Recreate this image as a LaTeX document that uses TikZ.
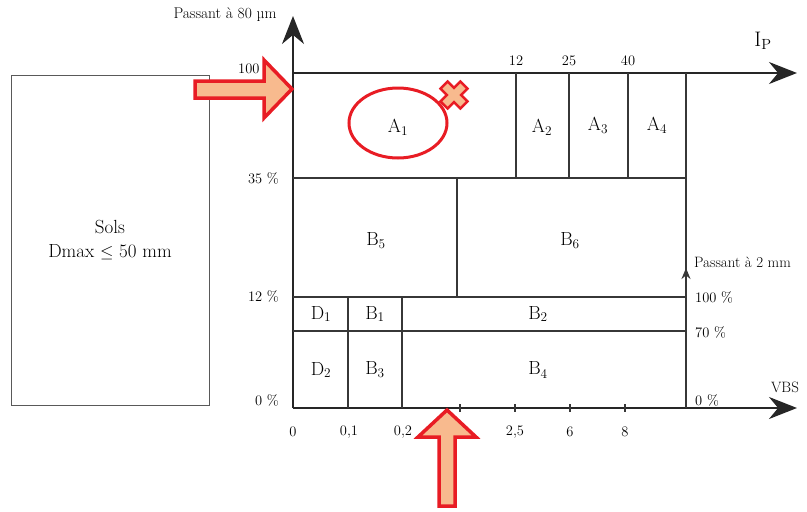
\documentclass[tikz,border=0pt]{standalone}
\usepackage{fontspec}
\usetikzlibrary{arrows.meta}
\definecolor{annred}{RGB}{232,28,36}
\definecolor{annfill}{RGB}{248,186,142}
\definecolor{gridgray}{RGB}{55,55,55}
\begin{document}
\begin{tikzpicture}[x=1pt, y=-1pt,
    grid/.style={draw=gridgray, line width=1.7pt},
    axis/.style={draw=black!85, line width=2pt, -{Stealth[length=28pt, width=22pt]}},
    cell/.style={font=\fontsize{19}{21}\selectfont},
    lbl/.style={font=\fontsize{14.5}{16}\selectfont, inner sep=1pt},
    annot/.style={draw=annred, fill=annfill, line width=3.5pt, line join=miter}
]
\useasboundingbox (0,0) rectangle (807,512);

% soil box
\node[draw=gray!70!black, line width=1pt, minimum width=198pt, minimum height=330pt,
      align=center, font=\fontsize{19}{24}\selectfont] (sols) at (110,240) {Sols\\Dmax $\leq$ 50 mm};

% axes
\coordinate (O) at (293,408);
\coordinate (ytop) at (293,16);
\coordinate (xend) at (797,408);
\coordinate (tl) at (293,73);
\coordinate (ipend) at (797,73);
\coordinate (rb) at (686,408);
\coordinate (rt) at (686,73);
\coordinate (rmid) at (686,268);

\draw[axis] (O) -- (ytop);
\draw[axis] (O) -- (xend);
\draw[axis] (tl) -- (ipend);
\draw[grid] (rb) -- (rt);
\draw[grid, -{Stealth[length=11pt, width=9pt]}] (rb) -- (rmid);

% class boundaries
\draw[grid] (293,178) -- (686,178);
\draw[grid] (293,297) -- (686,297);
\draw[grid] (293,331) -- (686,331);
\foreach \x in {516,569,628} \draw[grid] (\x,73) -- (\x,178);
\draw[grid] (457,178) -- (457,297);
\foreach \x in {348,402} \draw[grid] (\x,297) -- (\x,408);
\foreach \x in {460,515,570,625} \draw[grid] (\x,404) -- (\x,412);

% axis titles
\node[lbl, font=\fontsize{15.5}{17}\selectfont] (ytitle) at (225,15) {Passant à 80 µm};
\node[font=\fontsize{21}{23}\selectfont] (iptitle) at (763,41) {I\textsubscript{P}};
\node[lbl, font=\fontsize{15}{17}\selectfont, anchor=west] (rtitle) at (693,262) {Passant à 2 mm};
\node[lbl, font=\fontsize{15}{17}\selectfont] (vbs) at (785,387) {VBS};

% left scale
\node[lbl, anchor=west] (p100) at (237,69) {100};
\node[lbl, anchor=east] (p35) at (280,178) {35 \%};
\node[lbl, anchor=east] (p12) at (280,296) {12 \%};
\node[lbl, anchor=east] (p0) at (280,400) {0 \%};

% right scale
\node[lbl, anchor=west] (q100) at (694,297) {100 \%};
\node[lbl, anchor=west] (q70) at (694,332) {70 \%};
\node[lbl, anchor=west] (q0) at (694,400) {0 \%};

% Ip scale
\node[lbl] (ip12) at (516,61) {12};
\node[lbl] (ip25) at (569,61) {25};
\node[lbl] (ip40) at (628,61) {40};

% VBS scale
\node[lbl] (v0) at (293,432) {0};
\node[lbl] (v01) at (349,432) {0,1};
\node[lbl] (v02) at (403,432) {0,2};
\node[lbl] (v25) at (515,432) {2,5};
\node[lbl] (v6) at (570,432) {6};
\node[lbl] (v8) at (625,432) {8};

% classes
\node[cell] (A1) at (398,127) {A\textsubscript{1}};
\node[cell] (A2) at (542,127) {A\textsubscript{2}};
\node[cell] (A3) at (598,125) {A\textsubscript{3}};
\node[cell] (A4) at (657,125) {A\textsubscript{4}};
\node[cell] (B5) at (376,241) {B\textsubscript{5}};
\node[cell] (B6) at (570,241) {B\textsubscript{6}};
\node[cell] (D1) at (321,314) {D\textsubscript{1}};
\node[cell] (B1) at (375,314) {B\textsubscript{1}};
\node[cell] (B2) at (538,314) {B\textsubscript{2}};
\node[cell] (D2) at (321,370) {D\textsubscript{2}};
\node[cell] (B3) at (375,370) {B\textsubscript{3}};
\node[cell] (B4) at (538,370) {B\textsubscript{4}};

% red annotations
\draw[annred, line width=3pt] (398,123) ellipse [x radius=49, y radius=35];
\begin{scope}[shift={(454,95)}, rotate=45]
  \draw[annot, line width=2.5pt] (-5,-14) -- (5,-14) -- (5,-5) -- (14,-5) -- (14,5) -- (5,5)
      -- (5,14) -- (-5,14) -- (-5,5) -- (-14,5) -- (-14,-5) -- (-5,-5) -- cycle;
\end{scope}
\draw[annot] (195,81) -- (264,81) -- (264,60) -- (292,89) -- (264,118) -- (264,98) -- (195,98) -- cycle;
\draw[annot] (439,506) -- (439,437) -- (418,437) -- (447,410) -- (476,437) -- (455,437) -- (455,506) -- cycle;
\end{tikzpicture}
\end{document}
